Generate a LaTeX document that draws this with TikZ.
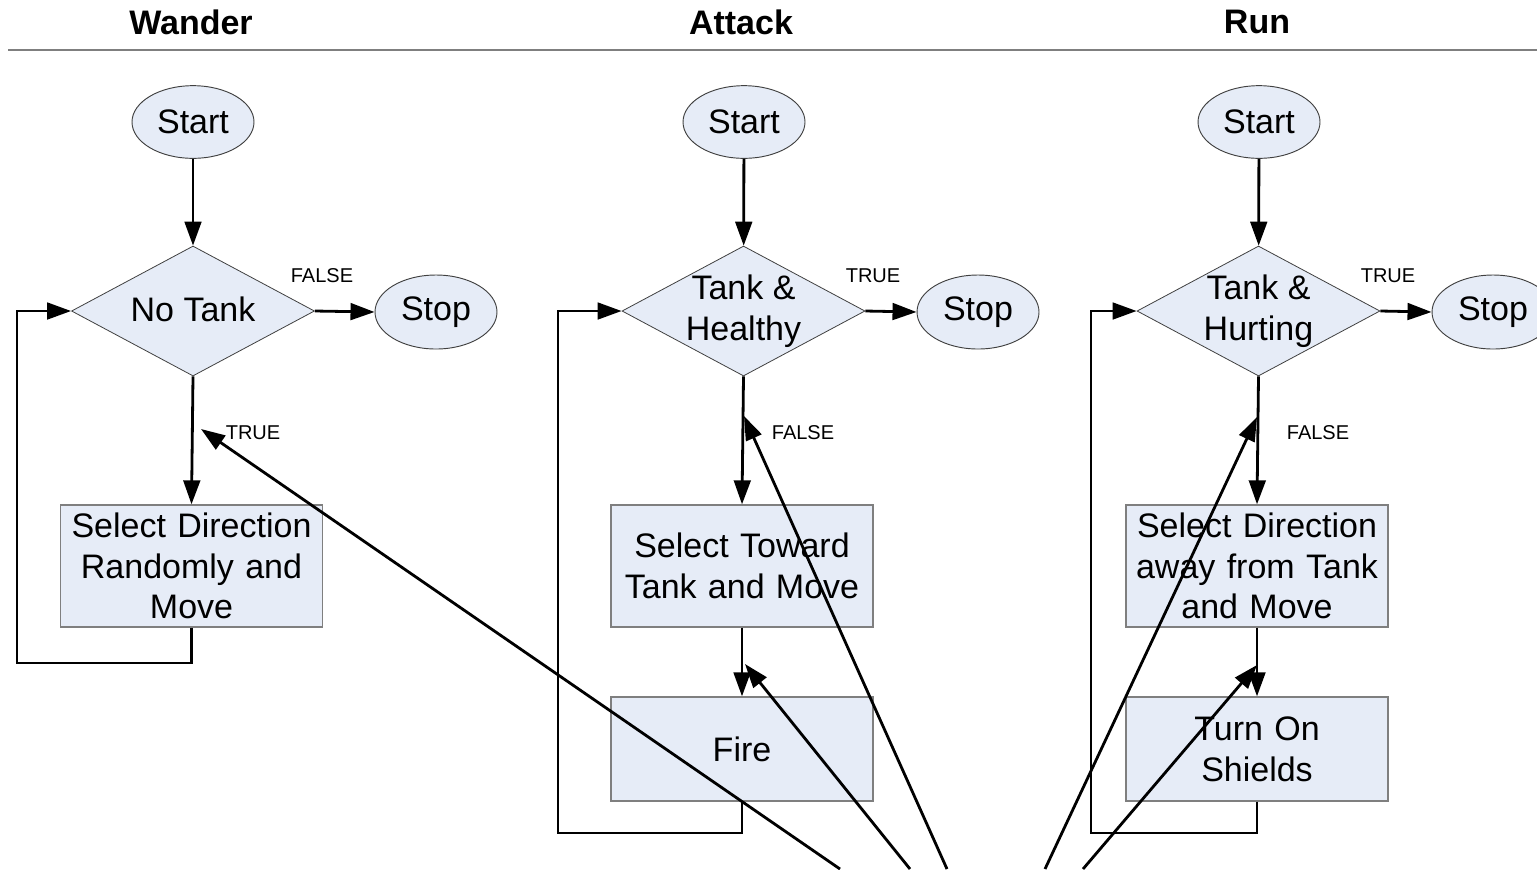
\documentclass[tikz,border=0pt]{standalone}
\usepackage{fontspec}
\setmainfont{Liberation Sans}
\usetikzlibrary{shapes.geometric,arrows.meta}
\definecolor{boxfill}{HTML}{E6ECF7}
\definecolor{boxline}{HTML}{7F7F7F}
\definecolor{ellline}{HTML}{404040}
\begin{document}
\begin{tikzpicture}[x=0.75pt,y=-0.75pt,
  startend/.style={ellipse,draw=ellline,line width=0.7pt,fill=boxfill,minimum width=91.5pt,minimum height=54.5pt,inner sep=0pt,font=\fontsize{25.5}{30.5}\selectfont},
  decision/.style={diamond,draw=ellline,line width=0.6pt,fill=boxfill,minimum width=182.25pt,minimum height=97.5pt,inner sep=0pt},
  dtext/.style={align=center,inner sep=0pt,font=\fontsize{25.5}{30.5}\selectfont},
  process/.style={rectangle,draw=boxline,line width=1pt,fill=boxfill,minimum width=196.5pt,minimum height=91.5pt,text width=194pt,align=center,inner sep=0pt,font=\fontsize{25.5}{30.5}\selectfont},
  conn/.style={line width=2.1pt,-{Triangle[length=18pt,width=12.5pt]}},
  lbl/.style={inner sep=0pt,font=\fontsize{15}{18}\selectfont},
  hdr/.style={inner sep=0pt,font=\fontsize{25.5}{30}\selectfont\bfseries}
]
\useasboundingbox (0,0) rectangle (1537,869);
% headers
\node[hdr] (h-w) at (191,22) {Wander};
\node[hdr] (h-a) at (741,22) {Attack};
\node[hdr] (h-r) at (1257,22) {Run};
\coordinate (hl1) at (8,50);
\coordinate (hl2) at (1537,50);
\draw[boxline,line width=1.5pt] (hl1) -- (hl2);

% ---------------- Wander ----------------
\node[startend] (w-start) at (193,122) {Start};
\node[decision] (w-dia) at (193,311) {};
\node[dtext] (w-dtxt) at (193,309) {No Tank};
\node[startend,minimum height=55.5pt] (w-stop) at (436,312) {Stop};
\node[process] (w-box) at (191.5,566) {Select Direction\\Randomly and\\Move};
\coordinate (w-lb) at (17,663);
\draw[conn] (w-start) -- (w-dia);
\draw[conn] (w-dia.east) -- (w-stop.west);
\draw[conn] (w-dia.south) -- (w-box.north);
\draw[conn] (w-box.south) |- (w-lb) |- (w-dia.west);
\node[lbl] (w-false) at (322,276) {FALSE};
\node[lbl] (w-true) at (253,433) {TRUE};

% ---------------- Attack ----------------
\node[startend] (a-start) at (744,122) {Start};
\node[decision] (a-dia) at (743.5,311) {};
\node[dtext] (a-dtxt) at (743.5,311) {Tank \&\\Healthy};
\node[startend,minimum height=55.5pt] (a-stop) at (978,312) {Stop};
\node[process] (a-box) at (742,566) {Select Toward\\Tank and Move};
\node[process,minimum height=78pt] (a-fire) at (742,749) {Fire};
\coordinate (a-lb) at (558,833);
\draw[conn] (a-start) -- (a-dia);
\draw[conn] (a-dia.east) -- (a-stop.west);
\draw[conn] (a-dia.south) -- (a-box.north);
\draw[conn] (a-box.south) -- (a-fire.north);
\draw[conn] (a-fire.south) |- (a-lb) |- (a-dia.west);
\node[lbl] (a-true) at (873,276) {TRUE};
\node[lbl] (a-false) at (803,433) {FALSE};

% ---------------- Run ----------------
\node[startend] (r-start) at (1259,122) {Start};
\node[decision] (r-dia) at (1258.5,311) {};
\node[dtext] (r-dtxt) at (1258.5,311) {Tank \&\\Hurting};
\node[startend,minimum height=55.5pt] (r-stop) at (1493,312) {Stop};
\node[process] (r-box) at (1257,566) {Select Direction\\away from Tank\\and Move};
\node[process,minimum height=78pt] (r-shield) at (1257,749) {Turn On\\Shields};
\coordinate (r-lb) at (1091,833);
\draw[conn] (r-start) -- (r-dia);
\draw[conn] (r-dia.east) -- (r-stop.west);
\draw[conn] (r-dia.south) -- (r-box.north);
\draw[conn] (r-box.south) -- (r-shield.north);
\draw[conn] (r-shield.south) |- (r-lb) |- (r-dia.west);
\node[lbl] (r-true) at (1388,276) {TRUE};
\node[lbl] (r-false) at (1318,433) {FALSE};

% ---------------- lines from below ----------------
\coordinate (b1) at (840,869);
\coordinate (t1) at (201,429);
\coordinate (b2) at (947,869);
\coordinate (t2) at (744,416);
\coordinate (b3) at (910,869);
\coordinate (t3) at (745,664);
\coordinate (b4) at (1045,869);
\coordinate (t4) at (1257,417);
\coordinate (b5) at (1083,869);
\coordinate (t5) at (1257,665);
\draw[conn] (b1) -- (t1);
\draw[conn] (b2) -- (t2);
\draw[conn] (b3) -- (t3);
\draw[conn] (b4) -- (t4);
\draw[conn] (b5) -- (t5);
\end{tikzpicture}
\end{document}
